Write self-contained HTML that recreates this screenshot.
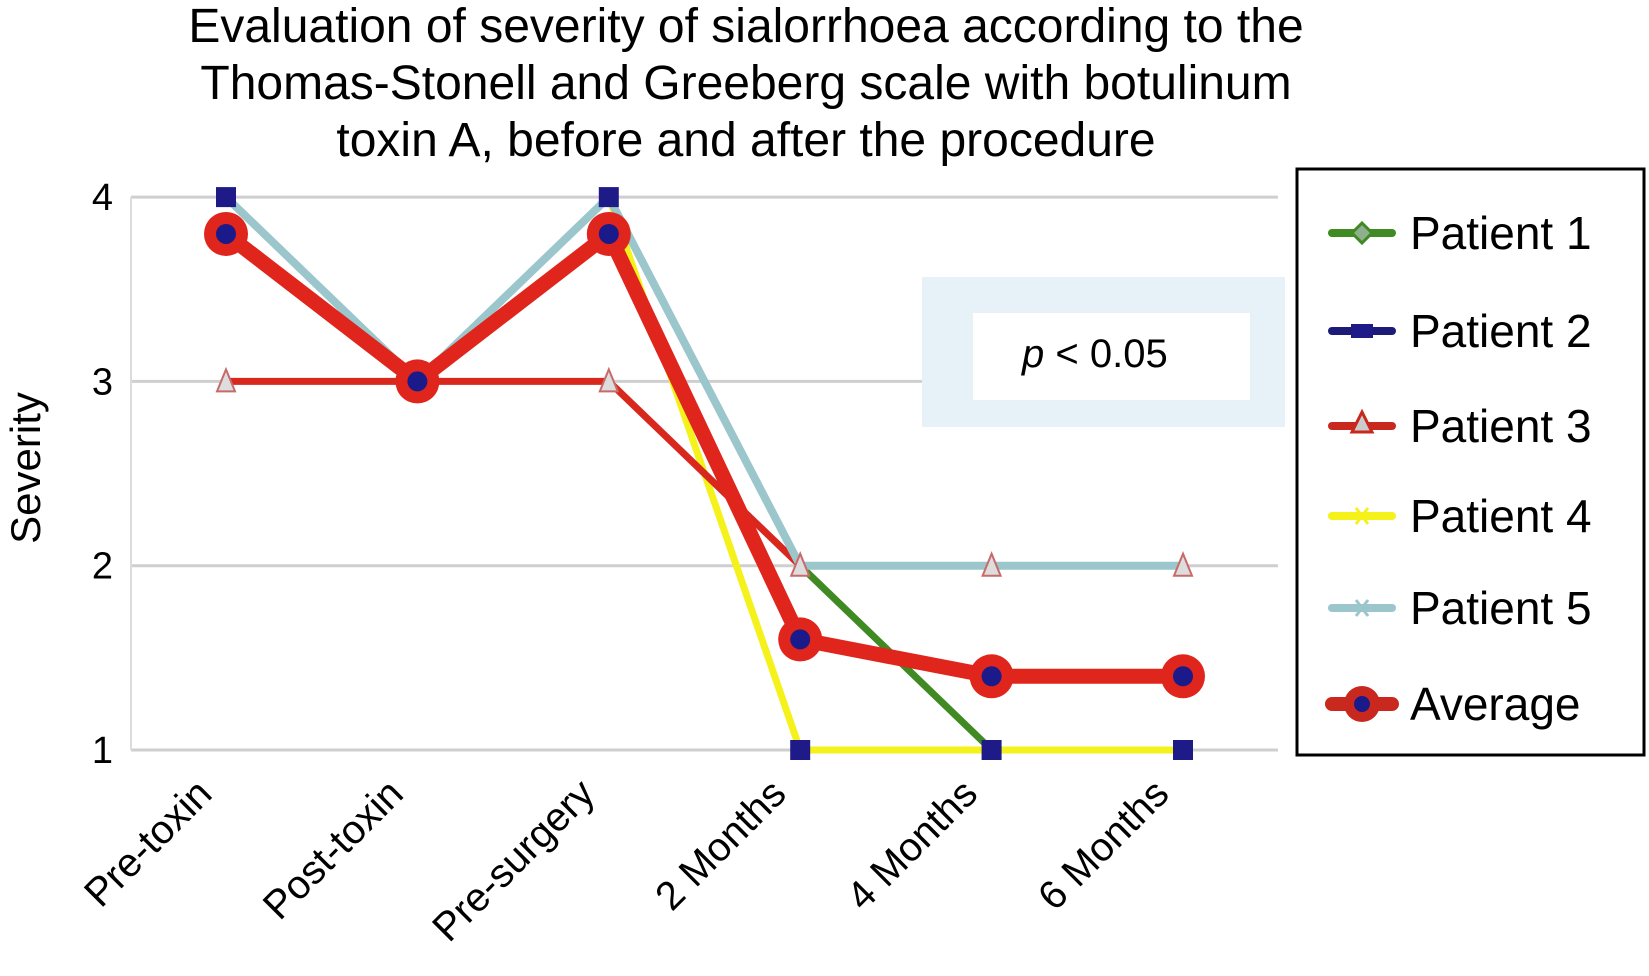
<!DOCTYPE html>
<html><head><meta charset="utf-8"><style>
html,body{margin:0;padding:0;background:#fff;}
svg{display:block;font-family:"Liberation Sans",Arial,sans-serif;}
</style></head><body>
<svg id="chart" width="1649" height="976" viewBox="0 0 1649 976">
<g font-size="48" text-anchor="middle" fill="#000">
<text x="746" y="42">Evaluation of severity of sialorrhoea according to the</text>
<text x="746" y="99">Thomas-Stonell and Greeberg scale with botulinum</text>
<text x="746" y="156">toxin A, before and after the procedure</text>
</g>
<g id="grid"></g>
<g>
<rect x="922" y="277" width="363" height="150" fill="#e6f2f8"/>
<rect x="973" y="313" width="277" height="87" fill="#fff"/>
<text x="1022" y="367" font-size="40"><tspan font-style="italic">p</tspan> &lt; 0.05</text>
</g>
<g id="yticks" font-size="38" text-anchor="end"></g>
<text transform="translate(40,468) rotate(-90)" font-size="42" text-anchor="middle">Severity</text>
<g id="xticks" font-size="40" text-anchor="end"></g>
<g id="series"></g>
<g>
<rect x="1297" y="169" width="347" height="586" fill="#fff" stroke="#000" stroke-width="3"/>
<g id="legend-items" font-size="46"></g>
</g>
</svg>
<script>
const categories=["Pre-toxin","Post-toxin","Pre-surgery","2 Months","4 Months","6 Months"];
const yTicks=[1,2,3,4];
const patient1=[4,3,4,2,1,1];
const patient2=[4,3,4,1,1,1];
const patient3=[3,3,3,2,2,2];
const patient4=[4,3,4,1,1,1];
const patient5=[4,3,4,2,2,2];
const average=[3.8,3,3.8,1.6,1.4,1.4];
const NS="http://www.w3.org/2000/svg";
function xs(i){return 226+i*191.4;}
function ys(v){return 750-(v-1)*184.3;}
function el(t,a,p){const e=document.createElementNS(NS,t);for(const k in a)e.setAttribute(k,a[k]);p.appendChild(e);return e;}
const grid=document.getElementById('grid');
yTicks.forEach(v=>{
 const l=el('line',{x1:131,x2:1278,y1:ys(v),y2:ys(v),stroke:'#cfcfcf','stroke-width':3},grid);
 
 
 const t=el('text',{x:113,y:ys(v)+13},document.getElementById('yticks'));
 t.textContent=v;
 
 
});
el('line',{x1:131,x2:131,y1:ys(4),y2:ys(1),stroke:'#dcdcdc','stroke-width':2},grid);
categories.forEach((c,i)=>{
 const x=xs(i)-12,y=796;
 const t=el('text',{x:x,y:y,transform:`rotate(-45 ${x} ${y})`},document.getElementById('xticks'));
 t.textContent=c;
 
 
});
const sg=document.getElementById('series');
function pts(a){return a.map((v,i)=>xs(i)+','+ys(v)).join(' ');}
function line(a,color,w,name){
 const p=el('polyline',{points:pts(a),fill:'none',stroke:color,'stroke-width':w,'stroke-linejoin':'round'},sg);
 
 
}
line(patient2,'#1e1a78',6,'patient-2-line');
line(patient1,'#3f8a22',7,'patient-1-line');
line(patient4,'#f4f21a',7,'patient-4-line');
line(patient3,'#d8281e',7,'patient-3-line');
line(patient5,'#9ac6cc',8,'patient-5-line');
patient2.forEach((v,i)=>{ if(i!==1){
 const r=el('rect',{x:xs(i)-10,y:ys(v)-10,width:20,height:20,fill:'#1e1a88'},sg);
 
 }
});
patient3.forEach((v,i)=>{ if(i!==1){
 const x=xs(i),y=ys(v);
 const t=el('polygon',{points:`${x},${y-12} ${x-9},${y+10} ${x+9},${y+10}`,fill:'#ddd',stroke:'#c86a6a','stroke-width':2},sg);
 
 }
});
line(average,'#e0251c',15,'average-line');
average.forEach((v,i)=>{
 const c=el('circle',{cx:xs(i),cy:ys(v),r:22,fill:'#e0251c'},sg);
 
 
 el('circle',{cx:xs(i),cy:ys(v),r:10,fill:'#1a1a8a'},sg);
});
const legend=[["Patient 1","#3f8a22","diamond"],["Patient 2","#1e1a78","square"],["Patient 3","#c8281e","triangle"],["Patient 4","#f4f21a","x"],["Patient 5","#9ac6cc","x"],["Average","#c8281e","circle"]];
const lg=document.getElementById('legend-items');
const ly=[233,331,426,516,608,704];
legend.forEach((L,i)=>{
 const y=ly[i],g=el('g',{},lg);
 
 
 el('line',{x1:1332,x2:1392,y1:y,y2:y,stroke:L[1],'stroke-width':L[2]==='circle'?14:8,'stroke-linecap':'round'},g);
 const m=1362;
 if(L[2]==='diamond')el('polygon',{points:`${m},${y-10} ${m+10},${y} ${m},${y+10} ${m-10},${y}`,fill:'#8fb08f',stroke:'#3f8a22','stroke-width':3},g);
 if(L[2]==='square')el('rect',{x:m-11,y:y-7,width:22,height:14,fill:'#1e1a88'},g);
 if(L[2]==='triangle')el('polygon',{points:`${m},${y-14} ${m-10},${y+6} ${m+10},${y+6}`,fill:'#ccc',stroke:'#c8281e','stroke-width':3},g);
 if(L[2]==='x'){el('line',{x1:m-6,y1:y-8,x2:m+6,y2:y+8,stroke:L[1],'stroke-width':3},g);el('line',{x1:m+6,y1:y-8,x2:m-6,y2:y+8,stroke:L[1],'stroke-width':3},g);}
 if(L[2]==='circle'){el('circle',{cx:m,cy:y,r:18,fill:'#c8281e'},g);el('circle',{cx:m,cy:y,r:8,fill:'#1a1a8a'},g);}
 const t=el('text',{x:1410,y:y+16},g);
 t.textContent=L[0];
});
</script>
</body></html>
